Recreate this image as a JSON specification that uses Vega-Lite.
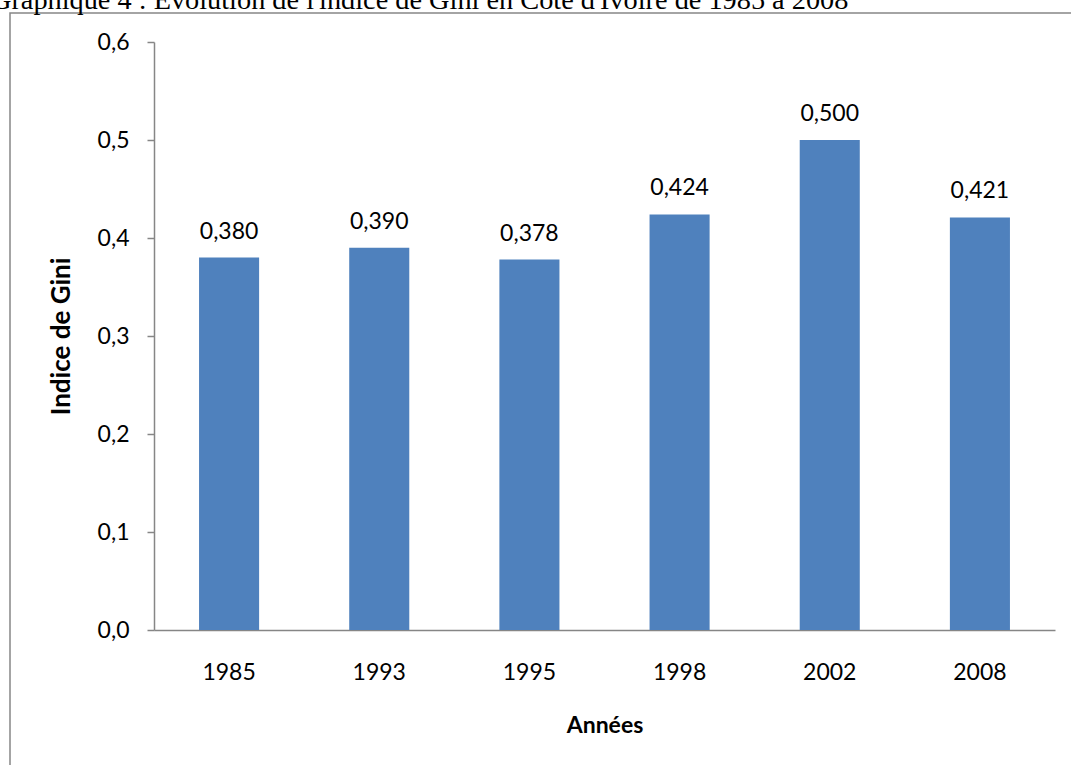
{
  "$schema": "https://vega.github.io/schema/vega-lite/v6.json",
  "autosize": {"type": "none"},
  "padding": {"left": 10, "top": 13, "right": -139, "bottom": -148},
  "width": 1200,
  "height": 900,
  "background": "white",
  "title": {
    "text": "Graphique 4 : Evolution de l'indice de Gini en Côte d'Ivoire de 1985 à 2008",
    "frame": "group",
    "anchor": "start",
    "dx": -19,
    "dy": 30,
    "offset": 6,
    "baseline": "alphabetic",
    "font": "Liberation Serif",
    "fontSize": 28.3,
    "fontWeight": "normal",
    "color": "#000000"
  },
  "config": {
    "locale": {"number": {"decimal": ",", "thousands": " ", "grouping": [3], "currency": ["", " €"]}},
    "view": {"stroke": "#868686", "strokeWidth": 1.5},
    "axis": {"grid": false}
  },
  "data": {
    "values": [
      {"annee": "1985", "gini": 0.380},
      {"annee": "1993", "gini": 0.390},
      {"annee": "1995", "gini": 0.378},
      {"annee": "1998", "gini": 0.424},
      {"annee": "2002", "gini": 0.500},
      {"annee": "2008", "gini": 0.421}
    ]
  },
  "encoding": {
    "x": {
      "field": "annee",
      "type": "ordinal",
      "scale": {"range": [144, 1045], "paddingInner": 0.6, "paddingOuter": 0.3},
      "axis": {
        "title": "Années",
        "offset": -283,
        "ticks": false,
        "tickSize": 0,
        "labelAngle": 0,
        "labelPadding": 31,
        "labelFont": "Lato",
        "labelFontSize": 23,
        "labelColor": "#000000",
        "domainColor": "#868686",
        "domainWidth": 1.5,
        "titleFont": "Lato",
        "titleFontSize": 23,
        "titleFontWeight": "bold",
        "titleColor": "#000000",
        "titlePadding": 30
      }
    },
    "y": {
      "field": "gini",
      "type": "quantitative",
      "scale": {"domain": [0, 0.6], "range": [617, 29], "nice": false},
      "axis": {
        "title": "Indice de Gini",
        "offset": -144,
        "values": [0, 0.1, 0.2, 0.3, 0.4, 0.5, 0.6],
        "format": ".1f",
        "tickSize": 7,
        "tickColor": "#868686",
        "tickWidth": 1.5,
        "labelPadding": 18,
        "labelFont": "Lato",
        "labelFontSize": 23,
        "labelColor": "#000000",
        "domainColor": "#868686",
        "domainWidth": 1.5,
        "titleFont": "Lato",
        "titleFontSize": 26,
        "titleFontWeight": "bold",
        "titleColor": "#000000",
        "titlePadding": 23
      }
    }
  },
  "layer": [
    {"mark": {"type": "bar", "color": "#4F81BD"}},
    {
      "mark": {"type": "text", "baseline": "alphabetic", "dy": -19, "font": "Lato", "fontSize": 23, "color": "#000000"},
      "encoding": {"text": {"field": "gini", "type": "quantitative", "format": ".3f"}}
    }
  ]
}
